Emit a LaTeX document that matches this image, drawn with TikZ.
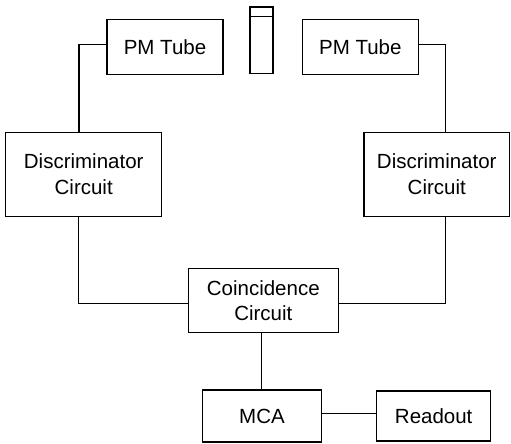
\documentclass[tikz,border=0pt]{standalone}
\usepackage{fontspec}
\setmainfont{Liberation Sans}
\begin{document}
\begin{tikzpicture}[x=1pt,y=-1pt,
  line width=1.1pt,
  block/.style={draw, rectangle, inner sep=0pt, align=center,
    font=\fontsize{20.5}{25.5}\selectfont},
  wire/.style={draw, line width=1.1pt}]
\useasboundingbox (0,0) rectangle (511,444);

% photomultiplier tubes and the sample vial between them
\node[block, minimum width=116pt, minimum height=55pt] (lpm) at (165,46.8) {PM Tube};
\node[block, minimum width=116pt, minimum height=55pt] (rpm) at (360.3,46.8) {PM Tube};
\node[draw, rectangle, inner sep=0pt, minimum width=23pt, minimum height=66.3pt] (vial) at (261.5,40.2) {};
\draw ([yshift=-10.3pt]vial.north west) -- ([yshift=-10.3pt]vial.north east);

% discriminators
\node[block, minimum width=156pt, minimum height=83.3pt] (ldisc) at (83.7,174.4) {Discriminator\\Circuit};
\node[block, minimum width=145.5pt, minimum height=83.3pt] (rdisc) at (436.75,174.4) {Discriminator\\Circuit};

% coincidence unit, analyser and readout
\node[block, minimum width=150pt, minimum height=64.4pt] (coinc) at (263.3,300.5) {Coincidence\\Circuit};
\node[block, minimum width=119.4pt, minimum height=52pt] (mca) at (262,416) {MCA};
\node[block, minimum width=114pt, minimum height=50pt] (readout) at (433.7,416) {Readout};

% signal lines
\draw[wire] ([xshift=-4.7pt]ldisc.north) |- ([yshift=2.5pt]lpm.west);
\draw[wire] ([xshift=8.5pt]rdisc.north) |- ([yshift=2.5pt]rpm.east);
\draw[wire] ([xshift=-5.4pt]ldisc.south) |- ([yshift=-3pt]coinc.west);
\draw[wire] ([xshift=9pt]rdisc.south) |- ([yshift=-3pt]coinc.east);
\draw[wire] ([xshift=-0.5pt]mca.north) -- ([xshift=-0.5pt]mca.north |- coinc.south);
\draw[wire] ([yshift=2.5pt]mca.east) -- ([yshift=2.5pt]mca.east -| readout.west);
\end{tikzpicture}
\end{document}
